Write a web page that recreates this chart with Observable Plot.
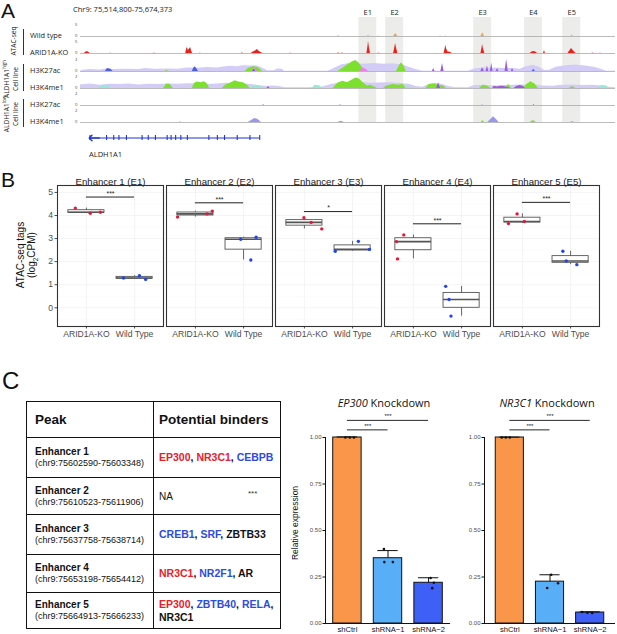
<!DOCTYPE html>
<html>
<head>
<meta charset="utf-8">
<title>ALDH1A1 enhancers</title>
<script src="https://cdn.jsdelivr.net/npm/d3@7"></script>
<script src="https://cdn.jsdelivr.net/npm/@observablehq/plot@0.6"></script>
<style>
  html,body{margin:0;padding:0;background:#fff;}
  #fig{position:relative;width:617px;height:634px;overflow:hidden;background:#fff;color:#111;font-family:"Liberation Sans",Arial,sans-serif;}
  #fig svg{position:absolute;overflow:visible;}
  .t{position:absolute;white-space:nowrap;line-height:1;}
  .c{transform:translate(-50%,-50%);}
  .r{transform:translate(-50%,-50%) rotate(-90deg);text-align:center;}
  .ym{transform:translateY(-50%);}
  .os{font-family:"Open Sans","Noto Sans",sans-serif;}
  table.tb{position:absolute;left:26px;top:401px;width:254px;border-collapse:collapse;table-layout:fixed;font-family:"Liberation Sans",Arial,sans-serif;color:#111;}
  table.tb td, table.tb th{border:1.5px solid #111;text-align:left;vertical-align:middle;padding:0 0 0 8px;}
  table.tb td.b{padding-left:5px;}
  table.tb th{font-size:13.5px;font-weight:bold;}
  table.tb th.b{padding-left:5px;}
  .pk{font-weight:bold;font-size:10px;line-height:12px;}
  .co{font-size:9px;line-height:11px;}
  .bd{font-weight:bold;font-size:10.5px;line-height:13px;}
</style>
</head>
<body>
<div id="fig"></div>
<script>
// ---------------- DATA ----------------
// Panel A: genome window (positions in kb from chr9:75,514,800)
const windowLabel = "Chr9: 75,514,800-75,674,373";
const windowStartBp = 75514800;
const viewSpanKb = 164.2;
const trackNames = ["Wild type", "ARID1A-KO", "H3K27ac", "H3K4me1", "H3K27ac", "H3K4me1"];
const trackMax = [5, 5, 2, 2, 2, 2];
const enhancerIds = ["E1", "E2", "E3", "E4", "E5"];

const wtAtac = [[78.9,0],[79.2,0.4],[79.5,0],[88.1,0],[88.4,0.35],[88.7,0],[91.2,0],[91.5,0.2],[91.8,0],[96.1,0],[96.4,0.6],[96.7,1.2],[97.0,0.7],[97.4,0],[110.3,0],[110.5,0.25],[110.7,0],[111.9,0],[112.1,0.3],[112.3,0],[122.9,0],[123.2,0.7],[123.4,1.4],[123.7,0.8],[124.0,0],[150.6,0],[150.9,0.6],[151.2,0]];
const koAtac = [[1.2,0],[1.6,0.5],[2.1,0.8],[2.6,0.4],[3.0,0],[9.0,0],[9.2,0.2],[9.4,0],[22.5,0],[22.7,0.3],[22.9,0],[32.3,0],[32.6,1.8],[32.8,2.3],[33.1,1.2],[33.4,1.6],[33.8,2.3],[34.1,1.0],[34.4,0],[36.6,0],[36.8,0.2],[37.0,0],[49.5,0],[49.7,0.4],[49.9,0],[52.4,0],[52.9,0.5],[53.7,1.0],[54.3,1.5],[54.8,0.9],[55.4,0.4],[56.0,0],[64.3,0],[64.5,0.2],[64.7,0],[79.0,0],[79.2,0.4],[79.4,0],[80.2,0],[80.4,0.3],[80.6,0],[87.9,0],[88.2,2.5],[88.4,4.6],[88.7,2.0],[89.0,0],[91.3,0],[91.5,0.25],[91.7,0],[96.1,0],[96.4,1.8],[96.7,3.8],[97.0,2.0],[97.4,0],[111.6,0],[111.9,1.8],[112.1,3.1],[112.4,1.6],[112.8,0.6],[113.6,0.5],[114.0,0],[122.9,0],[123.2,1.9],[123.4,3.5],[123.7,1.6],[124.1,0],[138.0,0],[138.6,0.6],[139.1,0.8],[139.7,0.6],[140.3,0],[142.1,0],[142.4,1.2],[142.7,0],[149.6,0],[150.1,0.9],[150.7,1.9],[151.2,1.2],[151.8,0.3],[152.2,0],[157.0,0],[157.2,0.3],[157.4,0],[159.4,0],[159.6,0.2],[159.8,0]];

const k27HighLav = [[0,0],[0.5,0.2],[3,0.3],[6,0.25],[8,0.4],[10,0.3],[14,0.35],[18,0.3],[20,0.45],[23,0.35],[27,0.4],[30,0.35],[33,0.55],[36,0.5],[39,0.6],[42,0.55],[44,0.7],[46,0.8],[48,0.75],[50,0.9],[52,0.85],[54,0.9],[56,0.5],[57.5,0.1],[59.5,0.1],[60.5,0.4],[62,0.35],[62.5,0.05],[76,0.05],[78,0.5],[80,1.0],[82,1.2],[84,1.3],[86,1.1],[88,1.15],[90,1.25],[93,1.1],[96,1.2],[99,1.0],[101,0.6],[103,0.3],[105,0.05],[119,0.05],[121,0.4],[124,0.55],[128,0.5],[132,0.45],[135,0.35],[136.5,0.7],[139,0.95],[141,0.6],[142.5,0.15],[144,0.2],[146,0.65],[149,0.9],[152,1.0],[155,0.85],[158,0.6],[160,0.3],[161.5,0.05],[164.2,0.05]];
const k27HighGreen = [[26,0],[26.5,0.15],[27,0],[50.5,0],[51.5,0.45],[53,0.75],[54.5,0.6],[55.5,0.2],[56,0],[79,0],[80.5,0.5],[82,1.0],[83.5,1.5],[84.5,1.7],[85.5,1.3],[86.5,0.6],[87.2,0],[97,0],[97.8,0.8],[98.5,1.35],[99.2,0.9],[100,0]];
const k27HighPink = [[52.8,0],[53.6,0.5],[54.4,0],[85.8,0],[86.6,0.55],[87.6,0.35],[88.4,0]];
const k27HighPurple = [[108,0],[108.4,0.45],[108.8,0],[110.6,0],[111.1,1.25],[111.6,0],[122.9,0],[123.4,0.6],[123.9,0],[124.5,0],[124.9,0.9],[125.3,0],[125.8,0],[126.2,1.3],[126.6,0],[127.6,0],[128,0.45],[128.4,0],[130.3,0],[130.8,1.85],[131.3,0],[132.2,0],[132.6,0.5],[133,0]];
const k27HighBlue = [[7.6,0],[8.3,0.45],[9.3,0.35],[10,0],[34.3,0],[35,0.75],[35.6,0.5],[36.2,0],[52.9,0],[53.3,0.35],[53.7,0],[138.6,0],[139.1,0.35],[139.6,0]];

const k4HighLav = [[0,0.55],[3,0.7],[6,0.5],[9,0.65],[12,0.6],[15,0.7],[18,0.55],[21,0.65],[24,0.6],[27,0.7],[30,0.65],[33,0.75],[36,0.7],[39,0.6],[42,0.7],[45,0.8],[48,0.75],[51,0.7],[54,0.5],[57,0.3],[59,0.4],[61,0.3],[63,0.1],[70,0.1],[74,0.2],[77,0.6],[80,0.9],[83,1.0],[86,0.95],[89,0.8],[92,0.85],[95,0.9],[98,0.8],[101,0.6],[103,0.3],[105,0.2],[107,0.6],[109,0.8],[111,0.6],[113,0.3],[115,0.1],[119,0.1],[121,0.45],[124,0.5],[127,0.4],[130,0.45],[133,0.5],[136,0.55],[139,0.6],[142,0.4],[145,0.35],[148,0.5],[151,0.55],[154,0.45],[157,0.5],[160,0.4],[162,0.2],[164.2,0.1]];
const k4HighGreen = [[25.5,0],[26.5,0.7],[27.5,0.6],[28.5,0],[34.3,0],[35,0.8],[36,1.0],[37,0.9],[38,1.05],[39,0.7],[39.6,0],[43.5,0],[44.5,0.5],[46,0.8],[47.5,1.2],[48.5,1.0],[50,0.9],[51.5,0.4],[52,0],[77.5,0],[79,0.8],[80.5,1.1],[82,0.9],[83,1.2],[84.5,1.6],[85.5,1.5],[86.5,1.0],[88,0.4],[89,0.5],[90.5,0.2],[91,0],[93,0],[94,0.4],[96,0.6],[97.5,0.5],[99,0.6],[100,0],[106,0],[107,0.6],[108.5,0.7],[110,0.5],[111.5,0.4],[112.3,0],[122.5,0],[123.5,0.5],[125,0.35],[126,0],[130.5,0],[131.4,0.6],[132.3,0],[136,0],[137,0.6],[138.2,1.05],[139.5,0.7],[140.5,0],[150,0],[151,0.3],[152,0]];
const k4HighCyan = [[5.5,0],[6.5,0.45],[8.5,0.4],[9.5,0],[52,0],[53,0.35],[55,0.3],[57,0],[71,0],[72,0.5],[73.5,0.4],[74.5,0],[99.5,0],[100.5,0.3],[102,0],[158.5,0],[160,0.45],[161.5,0.4],[162.5,0]];
const k4HighPurple = [[57.2,0],[57.7,0.3],[58.2,0],[109.3,0],[109.9,0.9],[110.5,0],[126.5,0],[127,0.35],[128,0.25],[129,0.35],[130,0.3],[131,0.2],[132,0],[133,0],[134,0.35],[135,0.45],[136,0.3],[136.5,0]];

const k27LowBlue = [[56,0],[56.2,0.2],[56.4,0],[79.6,0],[79.8,0.15],[80,0],[123.2,0],[123.4,0.12],[123.6,0],[139,0],[139.2,0.18],[139.4,0]];
const k4LowLav = [[30.4,0],[30.7,0.12],[31,0],[51.5,0],[52.5,0.3],[53.5,0.6],[54.5,0.45],[55.5,0],[79,0],[80,0.2],[81,0],[125,0],[126,0.5],[126.8,0.9],[127.8,0.4],[128.5,0],[150.5,0],[151,0.15],[151.5,0]];
const k4LowGreen = [[123,0],[123.5,0.3],[124,0],[138,0],[139,0.3],[140,0]];

const geneName = "ALDH1A1";
const geneSpanKb = [2.9, 55.0];
const geneExonsKb = [2.9, 8.0, 10.2, 11.8, 14.1, 18.9, 20.8, 23.0, 26.6, 27.8, 29.2, 30.8, 32.8, 39.4, 42.0, 44.2, 48.1, 52.0, 55.0];

// Panel B: ATAC-seq tags (log2 CPM)
const enhancerTitles = ["Enhancer 1 (E1)", "Enhancer 2 (E2)", "Enhancer 3 (E3)", "Enhancer 4 (E4)", "Enhancer 5 (E5)"];
const conditions = ["ARID1A-KO", "Wild Type"];
const koTags = [[4.32,4.10,4.14],[3.93,4.07,4.19],[3.90,3.70,3.42],[3.16,2.87,2.12],[4.07,3.65,3.74]];
const wtTags = [[1.29,1.39,1.23],[2.97,3.06,2.07],[2.45,2.88,2.53],[0.93,0.36,-0.36],[2.45,2.03,1.87]];
const koJitter = [[-0.23,0.08,0.29],[-0.37,0.24,0.35],[-0.01,0.14,0.36],[-0.2,-0.35,-0.33],[-0.11,-0.29,0.04]];
const wtJitter = [[-0.23,0.10,0.23],[-0.06,0.26,0.15],[-0.36,0.12,0.35],[-0.33,-0.26,-0.22],[-0.16,-0.09,0.13]];
const sigLabels = ["***", "***", "*", "***", "***"];
const sigLevels = [4.8, 4.55, 4.17, 3.64, 4.57];

// Panel C: table
const peakNames = ["Enhancer 1", "Enhancer 2", "Enhancer 3", "Enhancer 4", "Enhancer 5"];
const peakCoords = [[75602590,75603348],[75610523,75611906],[75637758,75638714],[75653198,75654412],[75664913,75666233]];
const peakBinders = [
  [["EP300","red"],["NR3C1","red"],["CEBPB","blue"]],
  [],
  [["CREB1","blue"],["SRF","blue"],["ZBTB33","black"]],
  [["NR3C1","red"],["NR2F1","blue"],["AR","black"]],
  [["EP300","red"],["ZBTB40","blue"],["RELA","blue"],["NR3C1","black"]]
];

// Panel C: knockdowns (relative expression)
const kdGroups = ["shCtrl", "shRNA\u22121", "shRNA\u22122"];
const ep300Mean = [1.0, 0.351, 0.219];
const ep300Err = [0.003, 0.041, 0.027];
const ep300Reps = [[1.0,1.0,1.0],[0.40,0.33,0.33],[0.245,0.219,0.19]];
const ep300Jit = [[-0.05,0.06,0.16],[-0.1,0.12,-0.09],[0.05,0.13,0.09]];
const nr3c1Mean = [1.0, 0.225, 0.059];
const nr3c1Err = [0.002, 0.037, 0.004];
const nr3c1Reps = [[1.0,1.0,1.0],[0.262,0.216,0.191],[0.062,0.058,0.057]];
const nr3c1Jit = [[-0.2,-0.1,0.0],[0.03,0.2,-0.07],[-0.2,-0.07,0.05]];

// ---------------- RENDER ----------------
const fig = document.getElementById("fig");
function put(el, left, top) { el.style.left = left + "px"; el.style.top = top + "px"; fig.appendChild(el); return el; }
function text(html, left, top, cls, css) {
  const d = document.createElement("div");
  d.className = "t " + (cls || "");
  d.innerHTML = html;
  if (css) d.style.cssText += css;
  return put(d, left, top);
}
function box(left, top, w, h, color) {
  const d = document.createElement("div");
  d.style.cssText = `position:absolute;width:${w}px;height:${h}px;background:${color};`;
  return put(d, left, top);
}

// Panel letters
text("A", 1, 0, "", "font-size:21px;");
text("B", 1, 169, "", "font-size:21px;");
text("C", 2, 369, "", "font-size:24px;");

// ----- Panel A -----
const xA = {domain: [0, viewSpanKb], axis: null};
const aStyle = {background: "transparent", overflow: "visible", fontFamily: "'Open Sans', sans-serif", fontSize: "4.2px", color: "#444"};
const enhancerCenters = peakCoords.map((c, i) => ({id: enhancerIds[i], c: ((c[0] + c[1]) / 2 - windowStartBp) / 1000}));

const shade = Plot.plot({
  width: 617, height: 124, marginLeft: 80, marginRight: 2, marginTop: 17, marginBottom: 2,
  x: xA, y: {axis: null},
  style: {...aStyle, fontSize: "7.5px", color: "#222"},
  marks: [
    Plot.rect(enhancerCenters, {x1: d => d.c - 2.75, x2: d => d.c + 2.75, fill: "#ecedea"}),
    Plot.text(enhancerCenters, {x: "c", text: "id", frameAnchor: "top", dy: -8, fontSize: 7.5, fill: "#222"})
  ]
});
put(shade, 0, 0);
text(windowLabel, 73, 6, "os", "font-size:7.5px;color:#222;");

const trackLayers = [
  [[wtAtac, "#f4a043"]],
  [[koAtac, "#e5231b"]],
  [[k27HighLav, "#d2ccf6"], [k27HighGreen, "#7ee02e"], [k27HighPink, "#f07fea"], [k27HighPurple, "#9a5bdd"], [k27HighBlue, "#4b5ee6"]],
  [[k4HighLav, "#d2ccf6"], [k4HighGreen, "#7ee02e"], [k4HighCyan, "#94e9da"], [k4HighPurple, "#9a5bdd"]],
  [[k27LowBlue, "#6e72e0"]],
  [[k4LowLav, "#9a97ec"], [k4LowGreen, "#7ee02e"]]
];
const baselines = [36, 53.3, 70.6, 87.8, 105.2, 122.3];
trackNames.forEach((name, i) => {
  const p = Plot.plot({
    width: 617, height: 18, marginLeft: 80, marginRight: 2, marginTop: 3, marginBottom: 2,
    x: xA,
    y: {domain: [0, trackMax[i]]},
    style: aStyle,
    marks: [
      Plot.ruleY([0], {stroke: "#a9a9a9", strokeWidth: 0.8}),
      ...trackLayers[i].map(([data, color]) => Plot.areaY(data, {x: d => d[0], y: d => d[1], fill: color})),
      Plot.axisY({ticks: [0], tickFormat: d3.format("d"), tickSize: 0, tickPadding: 3, dy: -0.8, label: null, fill: "#444"}),
      Plot.axisY({ticks: [trackMax[i]], tickFormat: d3.format("d"), tickSize: 0, tickPadding: 3, dy: 1, label: null, fill: "#444"})
    ]
  });
  put(p, 0, baselines[i] - 16);
  text(name, 30, baselines[i], "os ym", "font-size:7.4px;color:#222;");
});
// group brackets and rotated labels
box(23, 29, 1.3, 26, "#333");
box(23, 64, 1.3, 27, "#333");
box(23, 99, 1.3, 28, "#333");
text("ATAC-seq", 13.5, 41, "os r", "font-size:6.6px;color:#222;");
text("ALDH1A1<sup style='font-size:4.5px'>high</sup><br>Cell line", 9.6, 79, "os r", "font-size:6.6px;line-height:8.5px;color:#222;");
text("ALDH1A1<sup style='font-size:4.5px'>low</sup><br>Cell line", 9.6, 114, "os r", "font-size:6.6px;line-height:8.5px;color:#222;");

const gene = Plot.plot({
  width: 617, height: 15, marginLeft: 80, marginRight: 2, marginTop: 5, marginBottom: 5,
  x: xA, y: {domain: [-1, 1], axis: null},
  style: {background: "transparent", overflow: "visible"},
  marks: [
    Plot.ruleY([0], {x1: geneSpanKb[0], x2: geneSpanKb[1], stroke: "#1f35d6", strokeWidth: 1.2}),
    Plot.tickX(geneExonsKb, {stroke: "#1f35d6", strokeWidth: 1.1}),
    Plot.link([0], {x1: geneSpanKb[0] + 3, x2: geneSpanKb[0] + 0.2, y1: 0, y2: 0, stroke: "#1f35d6", strokeWidth: 1.4, markerEnd: "arrow"})
  ]
});
put(gene, 0, 129.5);
text(geneName, 89, 154.5, "os ym", "font-size:7.5px;color:#222;");

// ----- Panel B -----
const bPoints = [], bBoxes = [], bSig = [], bTitles = [];
enhancerIds.forEach((e, i) => {
  koTags[i].forEach((v, j) => bPoints.push({enh: e, cond: 0, x: 1 + koJitter[i][j], y: v}));
  wtTags[i].forEach((v, j) => bPoints.push({enh: e, cond: 1, x: 2 + wtJitter[i][j], y: v}));
  [koTags[i], wtTags[i]].forEach((vals, g) => {
    const s = vals.slice().sort(d3.ascending);
    const q1 = d3.quantile(s, 0.25), med = d3.quantile(s, 0.5), q3 = d3.quantile(s, 0.75);
    const iqr = q3 - q1;
    const lo = d3.min(s.filter(v => v >= q1 - 1.5 * iqr));
    const hi = d3.max(s.filter(v => v <= q3 + 1.5 * iqr));
    bBoxes.push({enh: e, x: g + 1, q1, med, q3, lo, hi});
  });
  bSig.push({enh: e, label: sigLabels[i], level: sigLevels[i]});
  bTitles.push({enh: e, title: enhancerTitles[i]});
});
const plotB = Plot.plot({
  width: 617, height: 170, marginTop: 15, marginBottom: 14, marginLeft: 55, marginRight: 17,
  style: {background: "transparent", overflow: "visible", fontFamily: "'Liberation Sans', Arial, sans-serif", fontSize: "8.6px", color: "#4d4d4d"},
  fx: {domain: enhancerIds, axis: null, paddingInner: 0.03, paddingOuter: 0},
  x: {domain: [0.4, 2.6], ticks: [1, 2], tickFormat: d => conditions[d - 1], tickSize: 2.5, tickPadding: 1.5, label: null},
  y: {domain: [-0.81, 5.3], ticks: [0, 1, 2, 3, 4, 5], tickFormat: d3.format("d"), tickSize: 2.5, tickPadding: 2, label: null},
  marks: [
    Plot.ruleY([-0.5, 0.5, 1.5, 2.5, 3.5, 4.5], {stroke: "#f6f6f6", strokeWidth: 0.5}),
    Plot.ruleY([0, 1, 2, 3, 4, 5], {stroke: "#ececec", strokeWidth: 0.6}),
    Plot.ruleX([1, 2], {stroke: "#ececec", strokeWidth: 0.6}),
    Plot.ruleX(bBoxes, {fx: "enh", x: "x", y1: "lo", y2: "hi", stroke: "#555", strokeWidth: 0.9}),
    Plot.rect(bBoxes, {fx: "enh", x1: d => d.x - 0.375, x2: d => d.x + 0.375, y1: "q1", y2: "q3", fill: "white", stroke: "#555", strokeWidth: 0.9}),
    Plot.ruleY(bBoxes, {fx: "enh", x1: d => d.x - 0.375, x2: d => d.x + 0.375, y: "med", stroke: "#555", strokeWidth: 1.6}),
    Plot.dot(bPoints.filter(d => d.cond === 0), {fx: "enh", x: "x", y: "y", r: 1.7, fill: "#e4183c"}),
    Plot.dot(bPoints.filter(d => d.cond === 1), {fx: "enh", x: "x", y: "y", r: 1.7, fill: "#2143ee"}),
    Plot.ruleY(bSig, {fx: "enh", x1: 1, x2: 2, y: "level", stroke: "#222", strokeWidth: 1}),
    Plot.text(bSig, {fx: "enh", x: 1.5, y: "level", text: "label", dy: -3.5, fontSize: 7, fill: "#222"}),
    Plot.text(bTitles, {fx: "enh", frameAnchor: "top", dy: -7, text: "title", fontSize: 9.6, fill: "#1a1a1a"}),
    Plot.frame({stroke: "#333", strokeWidth: 1.1})
  ]
});
put(plotB, 0, 170);
text("ATAC-seq tags<br>(log<sub style='font-size:6.5px'>2</sub>CPM)", 27.5, 255, "r", "font-size:10px;line-height:11px;color:#111;");

// ----- Panel C: table -----
const colorMap = {red: "#e8202a", blue: "#2d4be0", black: "#111"};
const table = document.createElement("table");
table.className = "tb";
const rowHeights = [36, 40, 37, 40, 38, 36];
let html = `<colgroup><col style="width:127px"><col style="width:127px"></colgroup>`;
html += `<tr style="height:${rowHeights[0]}px"><th>Peak</th><th class="b">Potential binders</th></tr>`;
peakNames.forEach((n, i) => {
  const b = peakBinders[i].length
    ? peakBinders[i].map((d, j) => `<span style="color:${colorMap[d[1]]}">${d[0]}</span>`).join('<span style="color:#111">, </span>')
    : `<span style="font-weight:normal;font-size:10px">NA</span>`;
  html += `<tr style="height:${rowHeights[i + 1]}px"><td><div class="pk">${n}</div><div class="co">(chr9:${peakCoords[i][0]}-${peakCoords[i][1]})</div></td><td class="b"><div class="bd">${b}</div></td></tr>`;
});
table.innerHTML = html;
put(table, 26, 401);
text("***", 248, 494, "ym", "font-size:8px;color:#333;");

// ----- Panel C: knockdown bars -----
const kdColors = ["#f99649", "#58aef7", "#3e60f6"];
function knockdown(means, errs, reps, jit, xdom, width) {
  const bars = kdGroups.map((g, i) => ({i, mean: means[i], top: means[i] + errs[i]}));
  const dots = reps.flatMap((arr, i) => arr.map((v, j) => ({x: i + jit[i][j], y: v})));
  const sig = [{a: 0, b: 1, y: 1.041, label: "***"}, {a: 0, b: 2, y: 1.092, label: "***"}];
  return Plot.plot({
    width, height: 228, marginLeft: 40, marginRight: 2, marginTop: 30, marginBottom: 12,
    style: {background: "transparent", overflow: "visible", fontFamily: "'Liberation Sans', Arial, sans-serif", fontSize: "7.5px", color: "#111"},
    x: {domain: xdom}, y: {domain: [0, 1]},
    marks: [
      Plot.rect(bars, {x1: d => d.i - 0.35, x2: d => d.i + 0.35, y1: 0, y2: "mean", fill: d => kdColors[d.i], stroke: "#111", strokeWidth: 1}),
      Plot.ruleX(bars, {x: "i", y1: "mean", y2: "top", stroke: "#111", strokeWidth: 1}),
      Plot.ruleY(bars, {x1: d => d.i - 0.25, x2: d => d.i + 0.25, y: "top", stroke: "#111", strokeWidth: 1}),
      Plot.dot(dots, {x: "x", y: "y", r: 1.3, fill: "#111"}),
      Plot.ruleY(sig, {x1: "a", x2: "b", y: "y", stroke: "#111", strokeWidth: 0.9}),
      Plot.text(sig, {x: d => (d.a + d.b) / 2, y: "y", text: "label", dy: -4, fontSize: 6, fill: "#111"}),
      Plot.ruleX([xdom[0]], {y1: 0, y2: 1, stroke: "#111", strokeWidth: 1}),
      Plot.ruleY([0], {stroke: "#111", strokeWidth: 1}),
      Plot.axisY({ticks: [0, 0.25, 0.5, 0.75, 1], tickFormat: d3.format(".2f"), tickSize: 2.5, tickPadding: 1.5, fontSize: 6, fill: "#4d4d4d", label: null}),
      Plot.axisX({ticks: [0, 1, 2], tickFormat: i => kdGroups[i], tickSize: 0, tickPadding: 3.5, fontSize: 7.6, label: null})
    ]
  });
}
put(knockdown(ep300Mean, ep300Err, ep300Reps, ep300Jit, [-0.54, 2.54], 167), 285, 407);
put(knockdown(nr3c1Mean, nr3c1Err, nr3c1Reps, nr3c1Jit, [-0.63, 2.63], 173), 444, 407);
text("<i>EP300</i> Knockdown", 384, 402, "os c", "font-size:11px;color:#111;");
text("<i>NR3C1</i> Knockdown", 547, 402, "os c", "font-size:11px;color:#111;");
text("Relative expression", 295, 523, "r", "font-size:8.5px;color:#111;");
</script>
</body>
</html>
